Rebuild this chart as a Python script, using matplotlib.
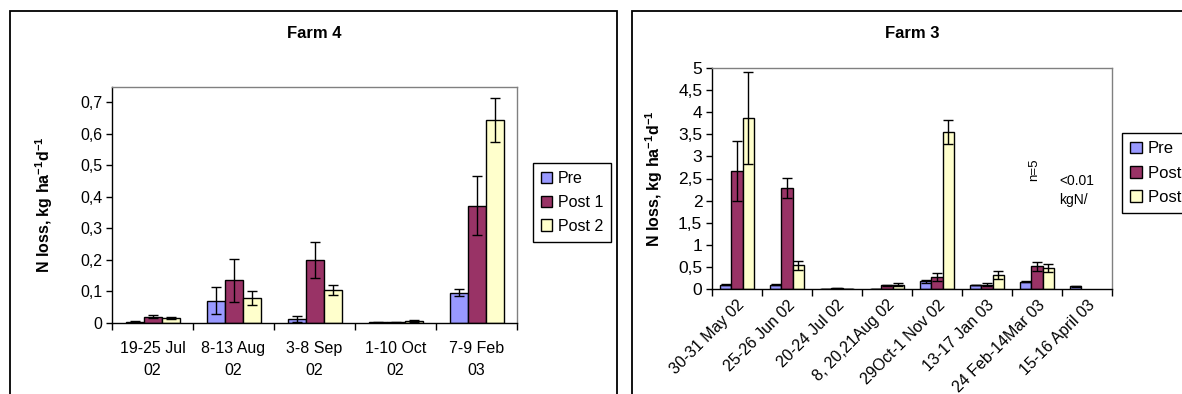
#!/usr/bin/env python3

'''Farm 4 / Farm 3 N loss bar charts with error bars'''

import matplotlib
matplotlib.use('Agg')
import matplotlib.pyplot as plt
from matplotlib.patches import Rectangle, Patch
import numpy as np

plt.rcParams['font.family'] = ['Liberation Sans', 'DejaVu Sans']
plt.rcParams['mathtext.default'] = 'regular'

series = ['Pre', 'Post 1', 'Post 2']
colors = ['#9999FF', '#993366', '#FFFFCC']

# Farm 4
f4_dates = ['19-25 Jul\n02', '8-13 Aug\n02', '3-8 Sep\n02', '1-10 Oct\n02', '7-9 Feb\n03']
f4_pre = [0.003, 0.070, 0.013, 0.002, 0.096]
f4_pre_err = [0.002, 0.043, 0.009, 0.001, 0.012]
f4_post1 = [0.020, 0.135, 0.201, 0.002, 0.372]
f4_post1_err = [0.004, 0.067, 0.057, 0.001, 0.093]
f4_post2 = [0.016, 0.078, 0.105, 0.006, 0.643]
f4_post2_err = [0.003, 0.022, 0.016, 0.002, 0.070]

# Farm 3
f3_dates = ['30-31 May 02', '25-26 Jun 02', '20-24 Jul 02', '8, 20,21Aug 02',
            '29Oct-1 Nov 02', '13-17 Jan 03', '24 Feb-14Mar 03', '15-16 April 03']
f3_pre = [0.10, 0.10, 0.0, 0.004, 0.17, 0.09, 0.16, 0.06]
f3_pre_err = [0.01, 0.01, 0.0, 0.005, 0.03, 0.01, 0.01, 0.01]
f3_post1 = [2.67, 2.29, 0.02, 0.08, 0.27, 0.10, 0.51, np.nan]
f3_post1_err = [0.67, 0.22, 0.01, 0.02, 0.10, 0.04, 0.10, np.nan]
f3_post2 = [3.87, 0.54, 0.005, 0.10, 3.55, 0.32, 0.48, np.nan]
f3_post2_err = [1.05, 0.10, 0.002, 0.03, 0.28, 0.09, 0.09, np.nan]

W, H = 1182, 394


def fx(px):
    return px / W


def fy(py):
    return 1 - py / H


def comma(v):
    s = ('%g' % round(v, 2))
    return s.replace('.', ',')


def bar_panel(ax, dates, values, errors, ymax, yticks):
    '''Excel-like clustered bars, gap width 150%'''
    n = len(dates)
    x = np.arange(n)
    w = 1 / 4.5
    for i, (vals, errs) in enumerate(zip(values, errors)):
        ax.bar(x + (i - 1) * w, vals, w, color=colors[i], edgecolor='black',
               linewidth=1.0, zorder=2)
        ax.errorbar(x + (i - 1) * w, vals, yerr=errs, fmt='none', ecolor='black',
                    elinewidth=1.0, capsize=3.5, capthick=1.0, zorder=3)
    ax.set_xlim(-0.5, n - 0.5)
    ax.set_ylim(0, ymax)
    ax.set_yticks(yticks)
    ax.set_yticklabels([comma(v) for v in yticks])
    ax.set_xticks(x)
    ax.set_xticks(np.arange(n + 1) - 0.5, minor=True)
    ax.tick_params(axis='x', which='major', length=0)
    ax.tick_params(axis='x', which='minor', length=5, width=1, direction='out')
    ax.tick_params(axis='y', length=4, width=1, direction='out', labelsize=11.5, pad=3)
    for side in ['top', 'right']:
        ax.spines[side].set_color('#808080')
    for side in ['left', 'bottom']:
        ax.spines[side].set_color('black')
    for s in ax.spines.values():
        s.set_linewidth(1.0)


fig = plt.figure(figsize=(W / 100, H / 100), dpi=100)

# outer panel frames (cut by page edge)
fig.patches.append(Rectangle((fx(10), -0.1), fx(617) - fx(10), fy(11) + 0.1,
                             transform=fig.transFigure, fill=False, edgecolor='black', linewidth=1.3))
fig.patches.append(Rectangle((fx(632), -0.1), fx(1200) - fx(632), fy(11) + 0.1,
                             transform=fig.transFigure, fill=False, edgecolor='black', linewidth=1.3))

ax1 = fig.add_axes([fx(112), fy(323), fx(517) - fx(112), fy(87) - fy(323)])
bar_panel(ax1, f4_dates, [f4_pre, f4_post1, f4_post2],
          [f4_pre_err, f4_post1_err, f4_post2_err], 0.7475, np.arange(0, 0.71, 0.1))
ax1.set_xticklabels(f4_dates, fontsize=11.5, linespacing=1.6)
ax1.tick_params(axis='x', which='major', pad=13)

ax2 = fig.add_axes([fx(712), fy(289), fx(1112) - fx(712), fy(68) - fy(289)])
bar_panel(ax2, f3_dates, [f3_pre, f3_post1, f3_post2],
          [f3_pre_err, f3_post1_err, f3_post2_err], 5, np.arange(0, 5.01, 0.5))
ax2.set_xticklabels(f3_dates, fontsize=11.5, rotation=45, ha='right', rotation_mode='anchor')
ax2.tick_params(axis='x', which='major', pad=6)
ax2.tick_params(axis='y', labelsize=12.5)

ylab = 'N loss, kg ha$^{-1}$d$^{-1}$'
fig.text(fx(314), fy(34), 'Farm 4', ha='center', va='center', fontsize=12, fontweight='bold')
fig.text(fx(912), fy(34), 'Farm 3', ha='center', va='center', fontsize=12, fontweight='bold')
fig.text(fx(44), fy(205), ylab, ha='center', va='center', rotation=90, fontsize=11.5, fontweight='bold')
fig.text(fx(654), fy(179), ylab, ha='center', va='center', rotation=90, fontsize=11.5, fontweight='bold')

# side notes on Farm 3
fig.text(fx(1034), fy(170), 'n=5', ha='center', va='center', rotation=90, fontsize=9.5)
fig.text(fx(1059), fy(181), '<0.01', ha='left', va='center', fontsize=10)
fig.text(fx(1059), fy(200), 'kgN/', ha='left', va='center', fontsize=10)

handles = [Patch(facecolor=c, edgecolor='black', linewidth=1.0) for c in colors]
for x0, y0, fs in [(533, 163, 11.5), (1122, 133, 12)]:
    leg = fig.legend(handles, series, loc='upper left', bbox_to_anchor=(fx(x0), fy(y0)),
                     bbox_transform=fig.transFigure, borderaxespad=0, fontsize=fs,
                     handlelength=0.7, handleheight=0.7, handletextpad=0.35,
                     labelspacing=0.55, borderpad=0.5, fancybox=False, framealpha=1)
    leg.get_frame().set_edgecolor('black')
    leg.get_frame().set_linewidth(1.0)

fig.savefig('out.png', dpi=100)
